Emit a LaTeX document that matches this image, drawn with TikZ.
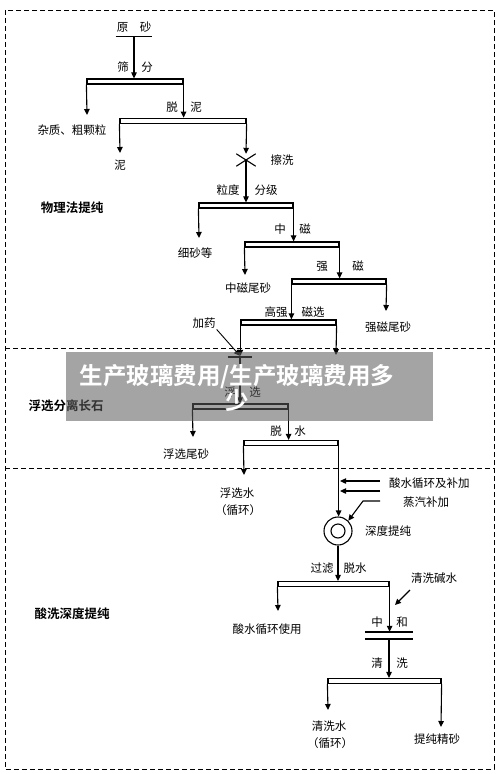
\documentclass[tikz,border=0pt]{standalone}
\usepackage{fontspec}
\setmainfont{Noto Sans CJK SC}[BoldFont={Noto Sans CJK SC Bold}]
\usetikzlibrary{arrows.meta}

\begin{document}
\begin{tikzpicture}[x=1pt, y=-1pt, > = {Triangle[length=6pt, width=5.5pt]},
    flow/.style = {line width=1.1pt, ->},
    line/.style = {line width=1.1pt},
    bar/.style = {draw, line width=1.2pt, fill=white, inner sep=0pt, minimum height=5pt},
    txt/.style = {inner sep=1pt, font=\fontsize{11.5}{14}\selectfont},
    sect/.style = {inner sep=1pt, font=\fontsize{12.5}{14}\selectfont\bfseries},
    frame/.style = {line width=0.9pt, dash pattern=on 5pt off 3pt}]

    \useasboundingbox (0,0) rectangle (500,774);

    % frames
    \draw[frame] (5,10) rectangle (494,769);
    \draw[frame] (5,348) -- (494,348);
    \draw[frame] (5,468) -- (494,468);
    \node[sect] (sec1) at (72,208) {物理法提纯};
    \node[sect] (sec2) at (66,406) {浮选分离长石};
    \node[sect] (sec3) at (72,614) {酸洗深度提纯};

    % physical purification
    \node[txt, minimum width=32pt, minimum height=18pt] (raw) at (134,27) {原\quad 砂};
    \draw[line] (raw.south west) -- (raw.south east);
    \node[bar, minimum width=96pt] (bar1) at (135,81.5) {};
    \draw[flow] (raw.south) -- (raw.south |- bar1.north);
    \node[txt] (l1a) at (123,67) {筛};
    \node[txt] (l1b) at (147,67) {分};

    \coordinate (t1) at (87,115);
    \node[txt] (impur) at (72,130) {杂质、粗颗粒};
    \node[bar, minimum width=126pt] (bar2) at (183,120.75) {};
    \draw[flow] (bar1.south west) -- (t1);
    \draw[flow] (bar1.south east) -- (bar1.south east |- bar2.north);
    \node[txt] (l2a) at (172,107) {脱};
    \node[txt] (l2b) at (196,107) {泥};

    \coordinate (t2) at (120,153);
    \node[txt] (mud) at (120,165) {泥};
    \draw[flow] (bar2.south west) -- (t2);
    \node[inner sep=0pt, minimum width=19pt, minimum height=12pt] (scrub) at (246,160) {};
    \draw[line] (scrub.north west) -- (scrub.south east) (scrub.north east) -- (scrub.south west);
    \draw[flow] (bar2.south east) -- (scrub.north);
    \node[txt] (l3) at (282,160) {擦洗};

    \node[bar, minimum width=94pt] (bar3) at (246,205.5) {};
    \draw[flow] (scrub.center) -- (scrub.center |- bar3.north);
    \node[txt] (l4a) at (228,190) {粒度};
    \node[txt] (l4b) at (266,190) {分级};

    \coordinate (t3) at (199,238);
    \node[txt] (fine) at (195,253) {细砂等};
    \draw[flow] (bar3.south west) -- (t3);
    \node[bar, minimum width=94pt] (bar4) at (292,244.5) {};
    \draw[flow] (bar3.south east) -- (bar3.south east |- bar4.north);
    \node[txt] (l5a) at (280,229) {中};
    \node[txt] (l5b) at (305,229) {磁};

    \coordinate (t4) at (245,275);
    \node[txt] (midtail) at (248,288) {中磁尾砂};
    \draw[flow] (bar4.south west) -- (t4);
    \node[bar, minimum width=94pt] (bar5) at (339,281.5) {};
    \draw[flow] (bar4.south east) -- (bar4.south east |- bar5.north);
    \node[txt] (l6a) at (322,266) {强};
    \node[txt] (l6b) at (358,266) {磁};

    \coordinate (t5) at (386,311);
    \node[txt] (strtail) at (388,327) {强磁尾砂};
    \draw[flow] (bar5.south east) -- (t5);
    \node[bar, minimum width=95pt] (bar6) at (288.5,322.5) {};
    \draw[flow] (bar5.south west) -- (bar5.south west |- bar6.north);
    \node[txt] (l7a) at (276,312) {高强};
    \node[txt] (l7b) at (313,312) {磁选};

    % flotation
    \node[inner sep=0pt, minimum width=24pt, minimum height=2pt] (tank) at (240,357) {};
    \draw[line width=1.8pt] (tank.west) -- (tank.east);
    \draw[flow] (bar6.south west) -- (bar6.south west |- tank.north);
    \coordinate (t6) at (336,355);
    \draw[flow] (bar6.south east) -- (t6);
    \node[txt] (dose) at (204,323) {加药};
    \draw[line width=0.9pt, ->] (dose.south east) -- (tank.north);

    \node[bar, minimum width=95pt] (bar7) at (240.5,406.5) {};
    \draw[flow] (tank.south) -- (tank.south |- bar7.north);
    \node[txt] (l8a) at (230,392) {浮};
    \node[txt] (l8b) at (255,392) {选};

    \coordinate (t7) at (193,437);
    \node[txt] (flotail) at (186,454) {浮选尾砂};
    \draw[flow] (bar7.south west) -- (t7);
    \node[bar, minimum width=94pt] (bar8) at (291,443) {};
    \draw[flow] (bar7.south east) -- (bar7.south east |- bar8.north);
    \node[txt] (l9a) at (276,431) {脱};
    \node[txt] (l9b) at (300,431) {水};

    % acid leaching
    \coordinate (t8) at (244,475);
    \node[txt] (flowater) at (237,493) {浮选水};
    \node[txt] (flocycle) at (238,510) {（循环）};
    \draw[flow] (bar8.south west) -- (t8);

    \node[draw, line width=1.1pt, circle, minimum size=28pt, inner sep=0pt] (deep) at (338,531) {};
    \draw[line width=1.1pt] (deep.center) circle [radius=7pt];
    \draw[flow] (bar8.south east) -- (bar8.south east |- deep.north);
    \node[txt, anchor=west] (deeplbl) at (364,531) {深度提纯};

    \node[txt, anchor=west] (acid) at (388,483) {酸水循环及补加};
    \node[txt, anchor=west] (steam) at (402,502) {蒸汽补加};
    \coordinate (a1) at (380,481);
    \coordinate (a2) at (380,491);
    \coordinate (s1) at (380,501);
    \draw[flow] (a1) -- ([xshift=1.5pt]a1 -| bar8.south east);
    \draw[flow] (a2) -- ([xshift=1.5pt]a2 -| bar8.south east);
    \draw[line width=1.1pt, ->] (s1) -- (363,501) -- (deep.north east);

    \node[bar, minimum width=111pt] (bar9) at (333.5,584) {};
    \draw[flow] (deep.south) -- (deep.south |- bar9.north);
    \node[txt] (l10a) at (322,568) {过滤};
    \node[txt] (l10b) at (355,568) {脱水};

    \coordinate (t9) at (278,611);
    \node[txt] (acidreuse) at (267,629) {酸水循环使用};
    \draw[flow] (bar9.south west) -- (t9);

    \node[inner sep=0pt, minimum width=48pt, minimum height=7pt] (neut) at (389,635.5) {};
    \draw[line width=2pt] (neut.north west) -- (neut.north east) (neut.south west) -- (neut.south east);
    \draw[flow] (bar9.south east) -- (bar9.south east |- neut.north);
    \node[txt] (l11a) at (377,622) {中};
    \node[txt] (l11b) at (402,622) {和};
    \node[txt, anchor=west] (alkali) at (410,578) {清洗碱水};
    \coordinate (k1) at (410,590);
    \draw[line width=1.1pt, ->] (k1) -- (395,605);

    \node[bar, minimum width=113pt] (bar10) at (384.5,681) {};
    \draw[flow] (neut.south) -- (neut.south |- bar10.north);
    \node[txt] (l12a) at (377,663) {清};
    \node[txt] (l12b) at (402,663) {洗};

    \coordinate (t10) at (328,710);
    \coordinate (t11) at (441,727);
    \node[txt] (washwater) at (329,726) {清洗水};
    \node[txt] (washcycle) at (330,743) {（循环）};
    \node[txt] (product) at (437,739) {提纯精砂};
    \draw[flow] (bar10.south west) -- (t10);
    \draw[flow] (bar10.south east) -- (t11);

    % banner
    \fill[black!64, opacity=0.56] (66,352) rectangle (433,421);
    \node[text=white, align=center, inner sep=0pt,
          font=\fontsize{23.5}{25}\selectfont\bfseries] (banner) at (237,388)
          {生产玻璃费用/生产玻璃费用多\\少};

\end{tikzpicture}
\end{document}
